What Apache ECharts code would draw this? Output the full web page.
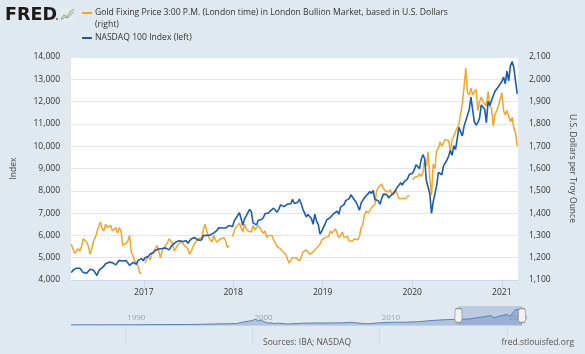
<!DOCTYPE html>
<html>
<head>
<meta charset="utf-8">
<script src="https://cdn.jsdelivr.net/npm/echarts@6/dist/echarts.min.js"></script>
<style>
  html, body { margin: 0; padding: 0; background: #e1e9f0; }
  #chart { width: 585px; height: 354px; }
</style>
</head>
<body>
<div id="chart"></div>
<script>
// weekly (Friday) readings, first week 2016-03-11
const firstWeek = '2016-03-11'

const ndx2016 = [4330, 4440, 4420, 4530, 4460, 4530, 4450, 4340, 4330, 4300, 4350, 4480,
  4460, 4440, 4380, 4200, 4400, 4490, 4570, 4620, 4730, 4780, 4800, 4790, 4780,
  4820, 4680, 4790, 4880, 4875, 4850, 4830, 4870, 4790, 4660, 4740, 4790, 4860,
  4710, 4880, 4920, 4960, 4860]
const ndx2017 = [5000, 5050, 5060, 5170, 5160, 5230, 5320, 5340, 5390, 5390, 5410, 5360, 5440,
  5420, 5350, 5430, 5580, 5660, 5700, 5640, 5760, 5820, 5730, 5660, 5760, 5650,
  5700, 5850, 5930, 5900, 5900, 5790, 5740, 5800, 5990, 5940, 6000, 5970, 6010,
  6060, 6100, 6080, 6230, 6340, 6340, 6330, 6400, 6330, 6340, 6440, 6470, 6400]
const ndx2018 = [6650, 6770, 6830, 7020, 6760, 6450, 6740, 6880, 6860, 7170, 7050, 6560, 6580,
  6470, 6680, 6700, 6710, 6800, 6980, 6930, 7000, 7100, 7160, 7220, 7160, 7040,
  7170, 7370, 7350, 7290, 7360, 7400, 7330, 7420, 7620, 7430, 7500, 7490, 7630,
  7430, 7180, 7130, 6830, 6940, 7000, 6760, 6500, 6950, 6640, 6490, 6060, 6190]
const ndx2019 = [6360, 6520, 6700, 6710, 6800, 6830, 6980, 7030, 7090, 6950, 7270, 7340, 7380,
  7560, 7620, 7650, 7820, 7800, 7600, 7500, 7320, 7130, 7460, 7480, 7700, 7670,
  7860, 7970, 7880, 8020, 7610, 7590, 7550, 7400, 7660, 7850, 7910, 7830, 7680,
  7770, 7830, 7890, 8000, 8160, 8250, 8360, 8260, 8400, 8400, 8530, 8730, 8800]
const ndx2020 = [8790, 8950, 9170, 9120, 8990, 9400, 9620, 9450, 8460, 8530, 7880, 6990, 7500,
  7530, 8230, 8830, 8770, 8720, 9120, 9150, 9380, 9560, 9820, 9590, 10030, 9850,
  10340, 10850, 10640, 10460, 10900, 11140, 11200, 11650, 12200, 11620, 11090, 10940, 11060,
  11250, 11850, 11900, 11670, 11050, 12010, 11830, 11890, 12260, 12460, 12380, 12670, 12710]
const ndx2021 = [12890, 13100, 12800, 13370, 12930, 13600, 13800, 13530, 12910, 12350]

const gold2016 = [1260, 1255, 1220, 1225, 1240, 1230, 1250, 1285, 1290, 1270, 1250, 1215,
  1240, 1275, 1290, 1315, 1340, 1360, 1330, 1320, 1350, 1335, 1340, 1345, 1320,
  1320, 1335, 1310, 1335, 1320, 1255, 1255, 1265, 1275, 1300, 1225, 1210, 1185,
  1175, 1160, 1130, 1130, null]
const gold2017 = [1175, 1195, 1205, 1190, 1215, 1230, 1240, 1255, 1230, 1200, 1230, 1245, 1245,
  1265, 1285, 1285, 1265, 1230, 1230, 1255, 1265, 1275, 1270, 1255, 1255, 1240,
  1215, 1230, 1250, 1265, 1260, 1285, 1290, 1290, 1325, 1350, 1320, 1295, 1280,
  1270, 1300, 1280, 1270, 1270, 1285, 1290, 1290, 1275, 1245, 1255, null, 1295]
const gold2018 = [1320, 1335, 1335, 1355, 1335, 1315, 1350, 1330, 1320, 1320, 1315, 1345, 1325,
  1330, 1345, 1335, 1320, 1310, 1320, 1290, 1300, 1295, 1300, 1280, 1265, 1250,
  1255, 1240, 1230, 1225, 1215, 1210, 1175, 1190, 1200, 1195, 1200, 1200, 1185,
  1200, 1225, 1225, 1235, 1235, 1215, 1220, 1225, 1220, 1245, 1240, 1260, 1280]
const gold2019 = [1285, 1290, 1285, 1295, 1320, 1310, 1315, 1330, 1310, 1290, 1300, 1315, 1290,
  1290, 1295, 1275, 1280, 1275, 1285, 1285, 1280, 1295, 1335, 1350, 1395, 1410,
  1400, 1410, 1425, 1420, 1440, 1500, 1515, 1510, 1530, 1510, 1500, 1505, 1495,
  1505, 1485, 1490, 1505, 1510, 1465, 1470, 1465, 1460, 1465, 1475, 1480, null]
const gold2020 = [1550, 1560, 1555, 1565, 1575, 1565, 1580, 1640, 1610, 1675, 1560, 1480, 1620,
  1600, 1680, 1690, 1720, 1700, 1700, 1730, 1735, 1725, 1680, 1730, 1745, 1765,
  1770, 1800, 1805, 1890, 1970, 2050, 1940, 1930, 1960, 1930, 1945, 1955, 1860,
  1900, 1920, 1900, 1905, 1880, 1945, 1880, 1870, 1790, 1840, 1840, 1880, 1875]
const gold2021 = [1940, 1860, 1840, 1860, 1860, 1810, 1830, 1780, 1760, 1700]

// long history for the navigator strip
const navDates = ['1985-10-01', '1986-06-01', '1987-08-01', '1987-11-01', '1988-12-01', '1989-12-01',
  '1990-10-01', '1991-12-01', '1992-12-01', '1993-12-01', '1994-12-01', '1995-12-01', '1996-12-01',
  '1997-12-01', '1998-10-01', '1998-12-31', '1999-12-31', '2000-03-24', '2000-05-24', '2000-09-01',
  '2000-12-31', '2001-04-04', '2001-07-01', '2001-09-21', '2001-12-31', '2002-10-08', '2002-12-31',
  '2003-12-31', '2004-12-31', '2005-12-31', '2006-12-31', '2007-10-31', '2008-03-10', '2008-11-20',
  '2009-03-09', '2009-12-31', '2010-12-31', '2011-12-31', '2012-12-31', '2013-12-31', '2014-12-31',
  '2015-12-31', '2016-12-31', '2017-12-31', '2018-09-28', '2018-12-24', '2019-12-31', '2020-02-19',
  '2020-03-20', '2020-09-02', '2020-12-31', '2021-02-12', '2021-03-08']
const navValues = [110, 145, 180, 130, 175, 225, 165, 330, 360, 400, 405, 575, 820,
  990, 1200, 1840, 3700, 4700, 3300, 4000, 2340, 1600, 1800, 1130, 1580, 800, 980,
  1470, 1620, 1650, 1760, 2230, 1720, 1040, 1040, 1860, 2220, 2280, 2660, 3590, 4240,
  4590, 4860, 6400, 7630, 5900, 8730, 9720, 7000, 12420, 12890, 13800, 12300]

const yearTicks = ['2017', '2018', '2019', '2020', '2021']
const navTicks = ['1990', '2000', '2010', '2020']
const viewStart = '2016-03-10'
const viewEnd = '2021-03-08'
const navStart = '1985-10-01'

const nasdaq = [].concat(ndx2016, ndx2017, ndx2018, ndx2019, ndx2020, ndx2021)
const gold = [].concat(gold2016, gold2017, gold2018, gold2019, gold2020, gold2021)

const DAY = 86400000
const t0 = Date.parse(firstWeek)
const weeks = nasdaq.map((_, i) => t0 + i * 7 * DAY)

const font = '"Open Sans", sans-serif'
const textCol = '#333'
const thousands = v => v.toLocaleString('en-US')
const yearTs = y => Date.parse(y + '-01-01')
const yearOf = v => String(new Date(v).getUTCFullYear())

const chart = echarts.init(document.getElementById('chart'), null, { renderer: 'canvas' })

chart.setOption({
  backgroundColor: '#e1e9f0',
  animation: false,
  textStyle: { fontFamily: font },
  grid: [
    { left: 71, right: 61, top: 57, height: 223, backgroundColor: '#fff', show: true, borderWidth: 0 },
    { left: 71, right: 63, top: 306, height: 19 }
  ],
  xAxis: [
    {
      type: 'value', gridIndex: 0, min: Date.parse(viewStart), max: Date.parse(viewEnd),
      axisLine: { lineStyle: { color: '#ccd6eb' } },
      axisTick: { show: true, length: 8, lineStyle: { color: '#ccd6eb' }, customValues: yearTicks.map(yearTs) },
      axisLabel: {
        customValues: yearTicks.map(yearTs), color: textCol, fontSize: 8.5, margin: 8,
        formatter: yearOf
      },
      splitLine: { show: false }
    },
    {
      type: 'value', gridIndex: 1, position: 'top', min: Date.parse(navStart), max: Date.parse(viewEnd),
      axisLine: { lineStyle: { color: '#c8d2dc' } },
      axisTick: { show: true, inside: true, length: 19, lineStyle: { color: '#d4dde6' }, customValues: navTicks.map(yearTs) },
      axisLabel: {
        customValues: navTicks.map(yearTs), inside: true, margin: 8, color: '#9aa3ad', fontSize: 8,
        align: 'left', padding: [0, 0, 0, 2],
        formatter: yearOf
      },
      splitLine: { show: false }
    }
  ],
  yAxis: [
    {
      type: 'value', gridIndex: 0, min: 4000, max: 14000, interval: 1000,
      name: 'Index', nameLocation: 'middle', nameGap: 53,
      nameTextStyle: { color: '#444', fontSize: 8.5 },
      axisLine: { show: false }, axisTick: { show: false },
      axisLabel: { color: textCol, fontSize: 8.5, margin: 11, formatter: thousands },
      splitLine: { lineStyle: { color: '#e6e6e6' } }
    },
    {
      type: 'value', gridIndex: 0, position: 'right', min: 1100, max: 2100, interval: 100,
      name: 'U.S. Dollars per Troy Ounce', nameLocation: 'middle', nameGap: 50, nameRotate: -90,
      nameTextStyle: { color: '#444', fontSize: 8.5 },
      axisLine: { show: false }, axisTick: { show: false },
      axisLabel: { color: textCol, fontSize: 8.5, margin: 11, formatter: thousands },
      splitLine: { show: false }
    },
    { type: 'value', gridIndex: 1, min: 0, max: 15500, show: false }
  ],
  series: [
    {
      name: 'Gold Fixing Price 3:00 P.M. (London time) in London Bullion Market, based in U.S. Dollars',
      type: 'line', xAxisIndex: 0, yAxisIndex: 1, showSymbol: false, connectNulls: false,
      lineStyle: { color: '#f4a52a', width: 1.5 }, itemStyle: { color: '#f4a52a' },
      data: weeks.map((t, i) => [t, gold[i]])
    },
    {
      name: 'NASDAQ 100 Index',
      type: 'line', xAxisIndex: 0, yAxisIndex: 0, showSymbol: false,
      lineStyle: { color: '#1a5cb5', width: 1.6 }, itemStyle: { color: '#1a5cb5' },
      data: weeks.map((t, i) => [t, nasdaq[i]])
    },
    {
      type: 'line', xAxisIndex: 1, yAxisIndex: 2, showSymbol: false, silent: true,
      lineStyle: { color: '#5b80b8', width: 1 },
      areaStyle: { color: 'rgba(100,135,190,0.55)' },
      data: navDates.map((d, i) => [Date.parse(d), navValues[i]]),
      markArea: {
        silent: true,
        itemStyle: { color: 'rgba(102,133,194,0.3)' },
        data: [[{ xAxis: Date.parse(viewStart) }, { xAxis: Date.parse(viewEnd) }]]
      },
      markPoint: {
        silent: true,
        symbol: 'roundRect', symbolSize: [7, 14],
        itemStyle: { color: '#f2f2f2', borderColor: '#999', borderWidth: 1 },
        label: { show: false },
        data: [{ coord: [Date.parse(viewStart), 7750] }, { coord: [Date.parse(viewEnd), 7750] }]
      }
    }
  ],
  graphic: [
    { type: 'text', left: 5, top: 6, style: { text: 'FRED', fontSize: 17.5, fontWeight: 900, fontFamily: 'DejaVu Sans', fill: '#1b1b1b' } },
    { type: 'circle', shape: { cx: 57, cy: 19, r: 1 }, style: { fill: '#555' } },
    { type: 'rect', shape: { x: 60, y: 7, width: 15, height: 14 }, style: { fill: '#e6ebf0' } },
    { type: 'polyline', shape: { points: [[61, 19], [64, 15], [67, 17], [70, 12], [74, 9]] }, style: { stroke: '#8cc47a', lineWidth: 1.2, fill: null } },
    { type: 'polyline', shape: { points: [[61, 20], [65, 17], [68, 18], [71, 14], [74, 12]] }, style: { stroke: '#7aa3d4', lineWidth: 1, fill: null } },
    { type: 'rect', shape: { x: 82, y: 12, width: 10, height: 2 }, style: { fill: '#f4a52a' } },
    { type: 'text', x: 95, y: 13, style: { text: 'Gold Fixing Price 3:00 P.M. (London time) in London Bullion Market, based in U.S. Dollars', fontSize: 8.6, fontFamily: font, fill: textCol, verticalAlign: 'middle' } },
    { type: 'text', x: 95, y: 25, style: { text: '(right)', fontSize: 8.6, fontFamily: font, fill: textCol, verticalAlign: 'middle' } },
    { type: 'rect', shape: { x: 82, y: 37, width: 10, height: 2 }, style: { fill: '#1a5cb5' } },
    { type: 'text', x: 95, y: 38, style: { text: 'NASDAQ 100 Index (left)', fontSize: 8.6, fontFamily: font, fill: textCol, verticalAlign: 'middle' } },
    { type: 'text', x: 307, y: 343, style: { text: 'Sources: IBA; NASDAQ', fontSize: 8.5, fontFamily: font, fill: '#555', align: 'center', verticalAlign: 'middle' } },
    { type: 'text', x: 574, y: 343, style: { text: 'fred.stlouisfed.org', fontSize: 8.5, fontFamily: font, fill: '#555', align: 'right', verticalAlign: 'middle' } }
  ]
})
</script>
</body>
</html>
